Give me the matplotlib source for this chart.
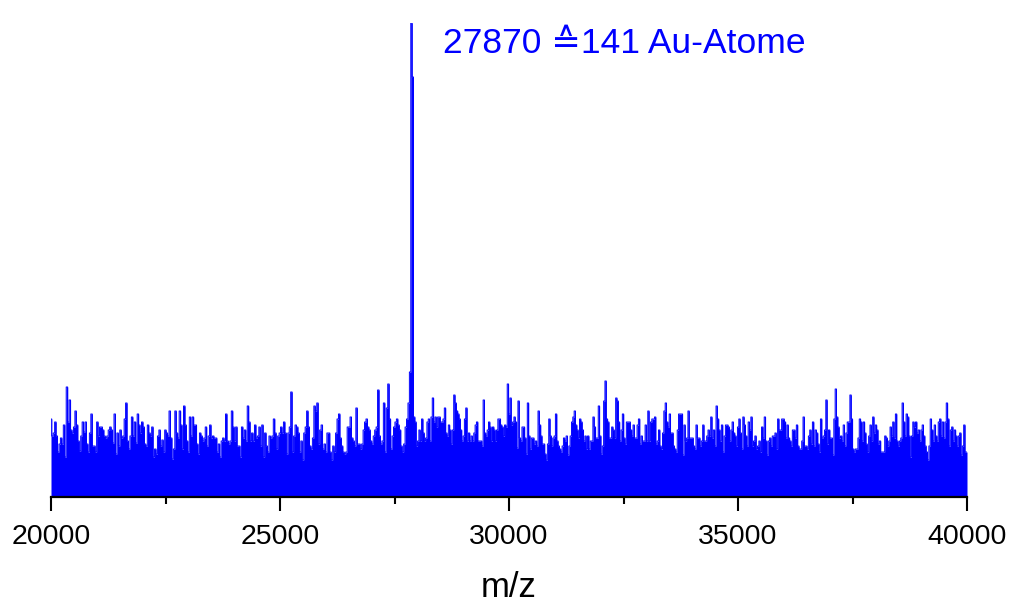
import numpy as np
import matplotlib
matplotlib.use("Agg")
import matplotlib.pyplot as plt
from matplotlib.ticker import MultipleLocator
from matplotlib import font_manager

# ---- spectrum data (arbitrary intensity units) ----
mz_min, mz_max = 20000, 40000

# cluster peak
peak_mz = [27840, 27870, 27900]
peak_int = [125, 474, 420]

# background noise below the peak m/z
noise_low = [
    78, 61, 64, 75, 61, 45, 53, 59, 53, 72,
    40, 110, 75, 97, 67, 64, 70, 86, 72, 56,
    46, 61, 75, 65, 75, 53, 45, 64, 83, 51,
    51, 45, 75, 61, 70, 70, 67, 61, 59, 61,
    67, 70, 67, 54, 83, 43, 64, 51, 67, 59,
    61, 78, 94, 56, 48, 61, 80, 61, 75, 54,
    83, 72, 64, 75, 70, 53, 51, 72, 64, 61,
    70, 40, 48, 43, 61, 67, 51, 57, 45, 67,
    64, 61, 86, 59, 38, 48, 86, 64, 59, 86,
    72, 48, 91,
    72, 56, 45, 80, 61, 80, 72, 72, 53, 43,
    64, 61, 56, 59, 70, 51, 61, 72, 59, 61,
    59, 59, 45, 53, 40, 56, 59, 56, 83, 56,
    53, 56, 86, 70, 56, 70, 51, 51, 40, 70,
    59, 67, 56, 91, 75, 56, 64, 56, 72, 59,
    61, 70, 51, 72, 40, 64, 51, 45, 61, 59,
    61, 78, 64, 48, 61, 64, 70, 64, 75, 64,
    43, 64, 70, 105, 45, 61, 72, 70, 64, 45,
    56, 37, 64, 70, 86, 70, 51, 48, 59, 91,
    86, 94, 53, 67, 72, 48, 53, 45, 64, 64,
    45, 37, 51, 45, 64, 78, 83, 59, 51, 45,
    43, 45, 70,
    70, 80, 59, 56, 51, 89, 53, 53, 48, 53,
    67, 75, 78, 70, 67, 56, 53, 61, 67, 70,
    107, 61, 53, 56, 94, 45, 89, 113, 78, 48,
    61, 70, 75, 78, 72, 67, 51, 45, 53, 70,
    78, 94,
]

# background noise above the peak m/z
noise_high = [
    80, 75, 51, 56, 67, 56, 78, 64, 56, 59,
    75, 78, 56, 80, 99, 75, 80, 70, 80, 80,
    75, 75, 78, 89, 64, 61, 72, 67, 53, 67,
    102, 94, 86, 83, 78, 67, 56, 61, 78, 89,
    56, 64, 56, 61, 56, 64, 72, 75, 56, 56,
    56, 51, 97, 64, 61, 67, 75, 70, 56, 70,
    67, 56, 67, 78, 78, 72, 70, 61, 72,
    70, 113, 83, 99, 72, 75, 80, 75, 49, 96,
    59, 56, 70, 70, 59, 43, 94, 61, 48, 59,
    59, 53, 56, 51, 86, 72, 61, 53, 53, 43,
    37, 53, 78, 61, 51, 59, 61, 83, 56, 51,
    48, 45, 51, 59, 56, 61, 42, 51, 61, 75,
    80, 86, 72, 67, 59, 78, 75, 67, 56, 61,
    48, 61, 48, 56, 56, 80, 70, 59, 59, 91,
    61, 43, 51, 96, 116, 78, 75, 59, 59, 70,
    67, 59, 99, 96, 75, 56, 67, 83, 59, 53,
    75, 75, 75, 67, 61, 72, 59, 59, 72, 78,
    53, 61, 56, 56, 72, 56, 86, 56, 75, 78,
    78, 80, 53, 56,
    67, 51, 48, 64, 86, 94, 75, 70, 83, 64,
    64, 51, 48, 45, 67, 83, 83, 83, 42, 72,
    56, 59, 86, 59, 59, 59, 51, 48, 72, 59,
    59, 51, 56, 72, 56, 56, 61, 67, 61, 80,
    59, 67, 51, 91, 78, 67, 56, 72, 45, 61,
    72, 72, 70, 56, 67, 75, 64, 61, 51, 70,
    78, 64, 48, 80, 72, 61, 51, 75, 67, 80,
    51, 56, 61, 48, 51, 56, 45, 70, 59, 80,
    56, 42, 56, 59, 51, 61, 61, 64, 48, 78,
    67, 67, 78, 78, 75, 59, 72, 59, 56, 51,
    67, 67, 59, 72, 51, 48, 48, 56, 80, 51,
    51, 48, 61, 67,
    53, 75, 51, 67, 64, 53, 45, 78, 59, 61,
    67, 97, 53, 67, 59, 59, 42, 78, 108, 80,
    70, 59, 61, 56, 72, 51, 64, 75, 75, 102,
    78, 48, 45, 48, 48, 59, 78, 75, 56, 75,
    64, 53, 45, 61, 72, 56, 80, 64, 72, 67,
    53, 56, 45, 45, 45, 61, 59, 51, 56, 70,
    61, 75, 59, 83, 56, 51, 56, 59, 94, 75,
    61, 83, 80, 61, 40, 61, 75, 70, 75, 64,
    67, 56, 67, 72, 61, 51, 45, 37, 51, 78,
    67, 56, 72, 61, 56, 75, 78, 61, 75, 59,
    75, 94, 78, 51, 67, 70, 56, 67, 61, 51,
    61, 64, 42, 51, 72, 45, 45,
]

x_ticks = [20000, 25000, 30000, 35000, 40000]
label_text = "27870 \u2259141 Au-Atome"
x_label = "m/z"

# ---- assemble the spectrum on its m/z axis ----
peak_step = peak_mz[1] - peak_mz[0]
mz_low = np.linspace(mz_min, peak_mz[0] - peak_step, len(noise_low))
mz_high = np.linspace(peak_mz[-1] + peak_step, mz_max, len(noise_high))
mz = np.concatenate([mz_low, peak_mz, mz_high])
intensity = np.concatenate([noise_low, peak_int, noise_high]).astype(float)


def pick_family(names):
    for n in names:
        try:
            font_manager.findfont(n, fallback_to_default=False)
            return n
        except Exception:
            continue
    return "DejaVu Sans"


sans = pick_family(["Liberation Sans", "Arial"])
plt.rcParams["font.family"] = [sans, "DejaVu Sans"]

blue = "#0000ff"

fig = plt.figure(figsize=(10.10, 6.02), dpi=100)
ax = fig.add_axes([51 / 1010, (602 - 497) / 602, 916 / 1010, (497 - 23) / 602])

ax.fill_between(mz, intensity, 0, step="mid", color=blue, linewidth=0)
ax.plot(mz, intensity, drawstyle="steps-mid", color=blue, linewidth=0.7)

ax.set_xlim(mz_min, mz_max)
ax.set_ylim(0, max(peak_int))

for side in ("left", "right", "top"):
    ax.spines[side].set_visible(False)
ax.spines["bottom"].set_linewidth(1.6)
ax.spines["bottom"].set_zorder(5)
ax.set_yticks([])

ax.set_xticks(x_ticks)
ax.xaxis.set_minor_locator(MultipleLocator(2500))
ax.tick_params(axis="x", which="major", direction="out", length=10,
               width=1.5, pad=9.5, labelsize=20.5)
ax.tick_params(axis="x", which="minor", direction="out", length=5, width=1.5)
ax.set_xlabel(x_label, fontsize=25, labelpad=15)

ax.text(28560, 444, label_text, color=blue, fontsize=25.5,
        ha="left", va="baseline", clip_on=False)

fig.savefig("out.png", dpi=100, facecolor="white")
